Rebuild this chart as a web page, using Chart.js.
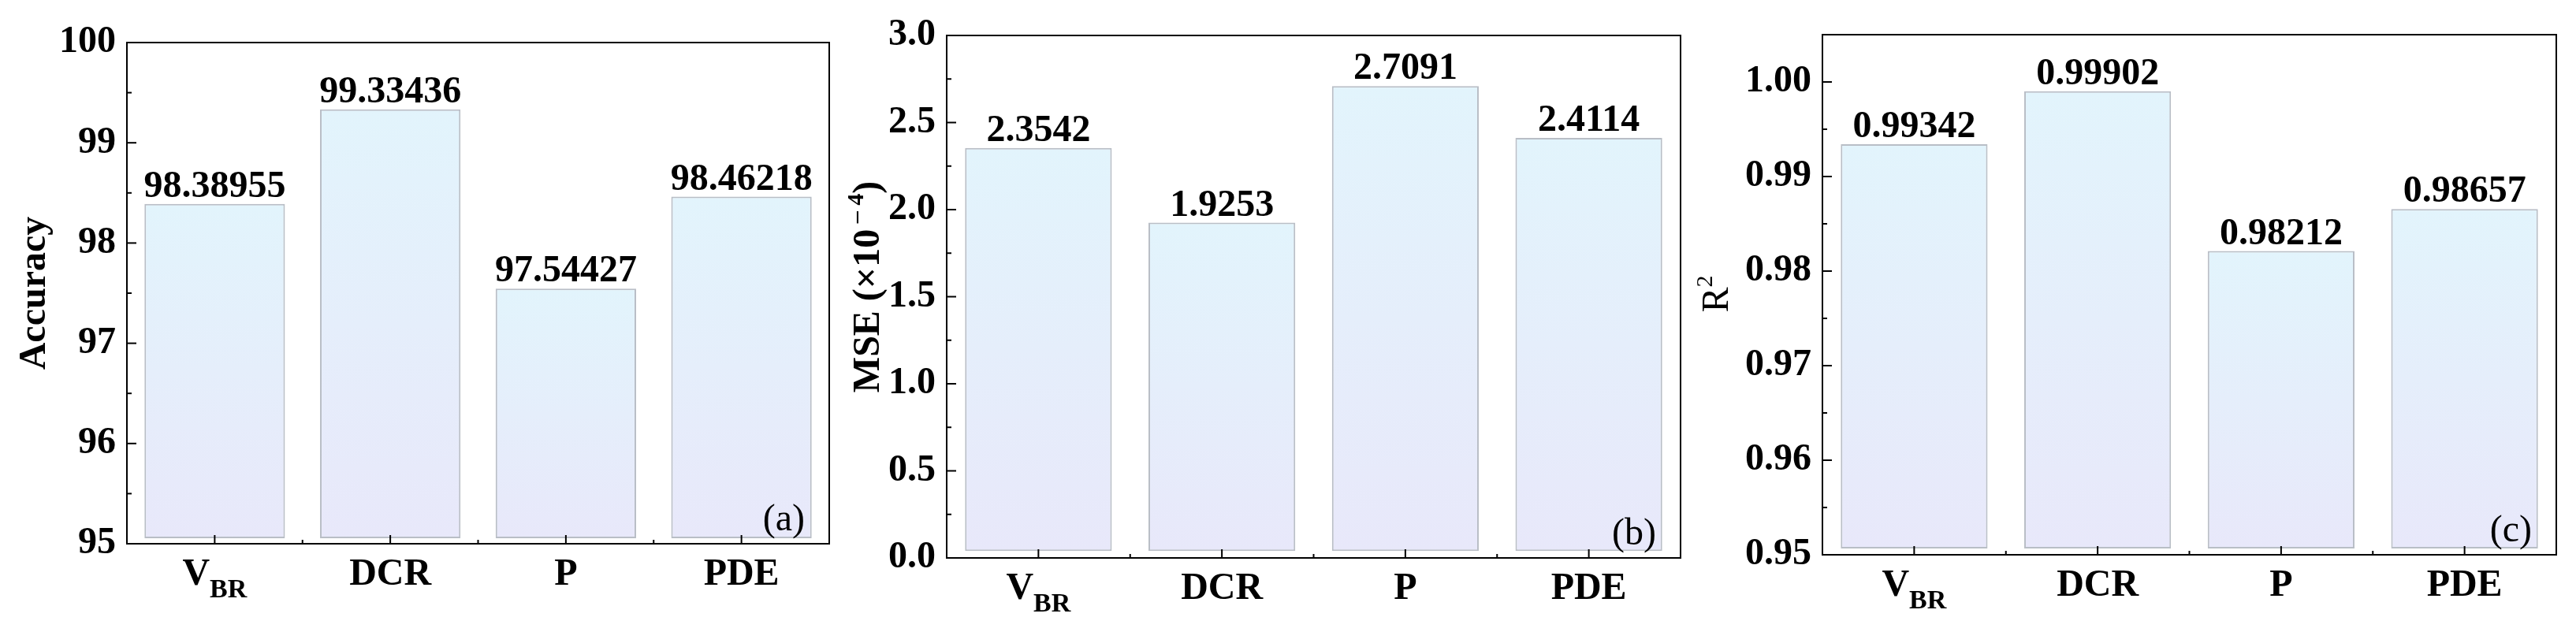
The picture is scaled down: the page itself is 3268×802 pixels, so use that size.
<!DOCTYPE html>
<html>
<head>
<meta charset="utf-8">
<script src="https://cdn.jsdelivr.net/npm/chart.js@4/dist/chart.umd.min.js"></script>
<style>
html, body { margin: 0; padding: 0; background: #fff; }
#wrap { position: relative; width: 3268px; height: 802px; overflow: hidden; }
canvas { position: absolute; top: 0; }
</style>
</head>
<body>
<div id="wrap">
  <canvas id="chartA" width="1062" height="802" style="left:0px"></canvas>
  <canvas id="chartB" width="1080" height="802" style="left:1062px"></canvas>
  <canvas id="chartC" width="1126" height="802" style="left:2142px"></canvas>
</div>
<script>
// categories ("_" marks a subscript)
var categories = ['V_BR', 'DCR', 'P', 'PDE'];

// series values
var accuracy = [98.38955, 99.33436, 97.54427, 98.46218];
var mse = [2.3542, 1.9253, 2.7091, 2.4114];
var r2 = [0.99342, 0.99902, 0.98212, 0.98657];

// tick labels
var accuracyTicks = [95, 96, 97, 98, 99, 100];
var mseTicks = [0, 0.5, 1.0, 1.5, 2.0, 2.5, 3.0];
var r2Ticks = [0.95, 0.96, 0.97, 0.98, 0.99, 1.00];

var SERIF = '"Liberation Serif", "Times New Roman", serif';
function font(size, bold) {
    return (bold ? 'bold ' : '') + size + 'px ' + SERIF;
}

function gradientFill(c) {
    var chart = c.chart;
    if (!chart.chartArea || c.type !== 'data') return '#e5f1fb';
    var y = chart.scales.y;
    var top = y.getPixelForValue(c.raw);
    var bottom = y.getPixelForValue(c.dataset.base);
    var g = chart.ctx.createLinearGradient(0, top, 0, bottom);
    g.addColorStop(0, '#e2f4fc');
    g.addColorStop(1, '#e8e8fa');
    return g;
}

function panelPlugin(cfg) {
    return {
        id: 'panel_' + cfg.letter,
        afterDraw: function(chart) {
            var ctx = chart.ctx;
            var a = chart.chartArea;
            var xs = chart.scales.x;
            var ys = chart.scales.y;
            function line(x1, y1, x2, y2) {
                ctx.beginPath();
                ctx.moveTo(x1, y1);
                ctx.lineTo(x2, y2);
                ctx.stroke();
            }
            ctx.save();
            ctx.strokeStyle = '#000';
            ctx.lineWidth = 2;
            ctx.strokeRect(a.left, a.top, a.right - a.left, a.bottom - a.top);

            // y ticks, inward, with minor ticks halfway
            cfg.ticks.forEach(function(v, i) {
                var py = ys.getPixelForValue(v);
                line(a.left, py, a.left + 12, py);
                if (i < cfg.ticks.length - 1) {
                    var pm = ys.getPixelForValue((v + cfg.ticks[i + 1]) / 2);
                    line(a.left, pm, a.left + 6, pm);
                }
            });

            // x ticks at centres, minor at boundaries
            for (var i = 0; i < categories.length; i++) {
                var px = xs.getPixelForValue(i);
                line(px, a.bottom, px, a.bottom - 11);
                if (i < categories.length - 1) {
                    var pb = (px + xs.getPixelForValue(i + 1)) / 2;
                    line(pb, a.bottom, pb, a.bottom - 5);
                }
            }

            // category labels
            ctx.fillStyle = '#000';
            ctx.textBaseline = 'alphabetic';
            ctx.textAlign = 'left';
            var baseY = a.bottom + 52;
            categories.forEach(function(lab, i) {
                var parts = lab.split('_');
                ctx.font = font(48, true);
                var w1 = ctx.measureText(parts[0]).width;
                var w2 = 0;
                if (parts[1]) {
                    ctx.font = font(34, true);
                    w2 = ctx.measureText(parts[1]).width;
                }
                var x0 = xs.getPixelForValue(i) - (w1 + w2) / 2;
                ctx.font = font(48, true);
                ctx.fillText(parts[0], x0, baseY);
                if (parts[1]) {
                    ctx.font = font(34, true);
                    ctx.fillText(parts[1], x0 + w1, baseY + 16);
                }
            });

            // value labels
            var meta = chart.getDatasetMeta(0);
            ctx.font = font(48, true);
            ctx.textAlign = 'center';
            meta.data.forEach(function(el, i) {
                ctx.fillText(String(cfg.values[i]), el.x, el.y - 9);
            });

            // panel letter
            ctx.font = font(48, false);
            ctx.textAlign = 'right';
            ctx.fillText('(' + cfg.letter + ')', a.right - 31, a.bottom - 17);

            // y title, rotated
            ctx.translate(cfg.titleX, cfg.titleY);
            ctx.rotate(-Math.PI / 2);
            ctx.textAlign = 'left';
            var total = 0;
            cfg.title.forEach(function(p) {
                ctx.font = font(p.size, p.bold);
                total += ctx.measureText(p.t).width;
            });
            var tx = -total / 2;
            cfg.title.forEach(function(p) {
                ctx.font = font(p.size, p.bold);
                ctx.fillText(p.t, tx, p.dy || 0);
                tx += ctx.measureText(p.t).width;
            });
            ctx.restore();
        }
    };
}

function makeChart(id, cfg) {
    return new Chart(document.getElementById(id), {
        type: 'bar',
        data: {
            labels: categories,
            datasets: [{
                data: cfg.values,
                base: cfg.base,
                backgroundColor: gradientFill,
                borderColor: '#b9bec6',
                borderWidth: 2,
                borderSkipped: false,
                barPercentage: 0.8,
                categoryPercentage: 1
            }]
        },
        options: {
            responsive: false,
            devicePixelRatio: 1,
            animation: false,
            layout: { padding: cfg.pad },
            plugins: { legend: { display: false }, tooltip: { enabled: false } },
            scales: {
                x: {
                    grid: { display: false, drawTicks: false },
                    border: { display: false },
                    ticks: { display: false },
                    afterFit: function(s) { s.height = cfg.xHeight; }
                },
                y: {
                    min: cfg.min,
                    max: cfg.max,
                    grid: { display: false, drawTicks: false },
                    border: { display: false },
                    afterBuildTicks: function(s) {
                        s.ticks = cfg.ticks.map(function(v) { return { value: v }; });
                    },
                    ticks: {
                        color: '#000',
                        padding: 14,
                        font: { family: SERIF, size: 48, weight: 'bold' },
                        callback: function(v) { return Number(v).toFixed(cfg.digits); }
                    },
                    afterFit: function(s) { s.width = cfg.yWidth; }
                }
            }
        },
        plugins: [panelPlugin(cfg)]
    });
}

makeChart('chartA', {
    letter: 'a', values: accuracy, ticks: accuracyTicks, digits: 0,
    min: 95, max: 100, base: 95.055,
    pad: { top: 54, right: 10, left: 0, bottom: 0 }, yWidth: 161, xHeight: 112,
    titleX: 57, titleY: 372,
    title: [{ t: 'Accuracy', size: 48, bold: true }]
});

makeChart('chartB', {
    letter: 'b', values: mse, ticks: mseTicks, digits: 1,
    min: 0, max: 3, base: 0.04,
    pad: { top: 45, right: 10, left: 0, bottom: 0 }, yWidth: 139, xHeight: 94,
    titleX: 53, titleY: 364,
    title: [
        { t: 'MSE (\u00d710', size: 48, bold: true },
        { t: ' \u2013', size: 30, bold: true, dy: -20 },
        { t: ' 4', size: 30, bold: true, dy: -20 },
        { t: ')', size: 48, bold: true }
    ]
});

makeChart('chartC', {
    letter: 'c', values: r2, ticks: r2Ticks, digits: 2,
    min: 0.95, max: 1.005, base: 0.95067,
    pad: { top: 44, right: 25, left: 0, bottom: 0 }, yWidth: 170, xHeight: 98,
    titleX: 50, titleY: 373,
    title: [
        { t: 'R', size: 48, bold: false },
        { t: '2', size: 30, bold: false, dy: -20 }
    ]
});
</script>
</body>
</html>
